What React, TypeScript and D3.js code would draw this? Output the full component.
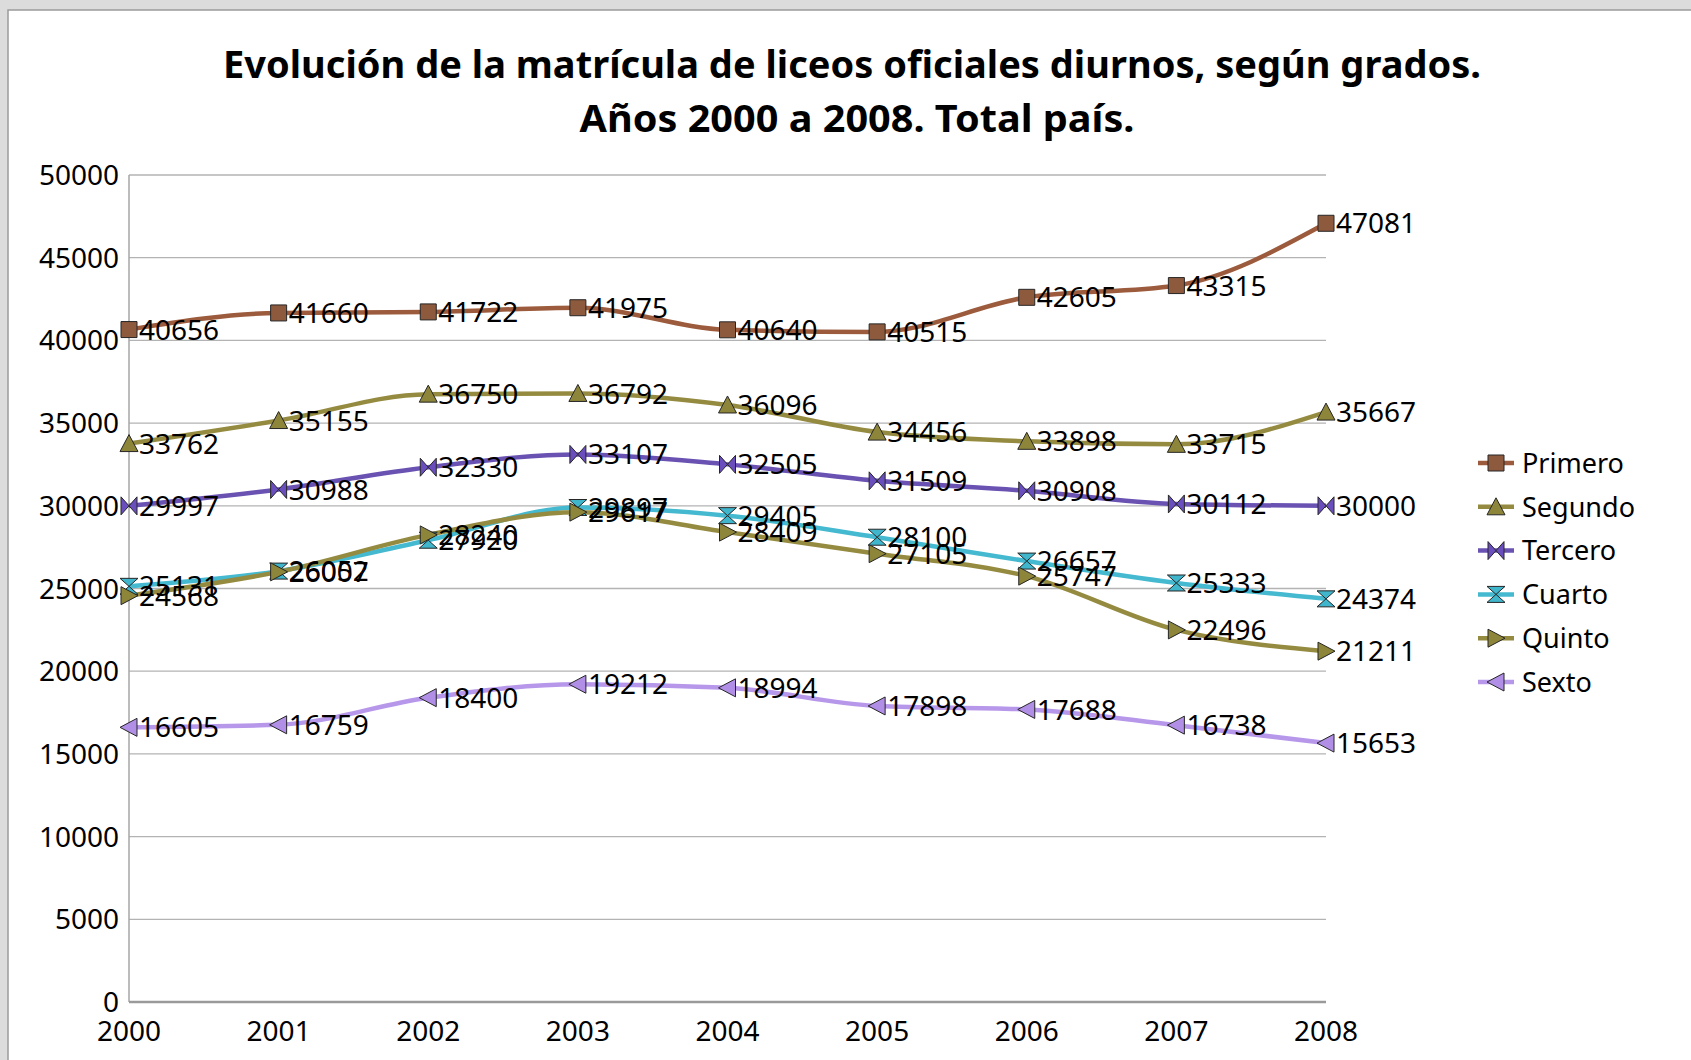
import React from 'react'
import * as d3 from 'd3'

const years = [2000, 2001, 2002, 2003, 2004, 2005, 2006, 2007, 2008]
const yTicks = [0, 5000, 10000, 15000, 20000, 25000, 30000, 35000, 40000, 45000, 50000]

const primero = [40656, 41660, 41722, 41975, 40640, 40515, 42605, 43315, 47081]
const segundo = [33762, 35155, 36750, 36792, 36096, 34456, 33898, 33715, 35667]
const tercero = [29997, 30988, 32330, 33107, 32505, 31509, 30908, 30112, 30000]
const cuarto = [25131, 26052, 27920, 29897, 29405, 28100, 26657, 25333, 24374]
const quinto = [24568, 26007, 28240, 29617, 28409, 27105, 25747, 22496, 21211]
const sexto = [16605, 16759, 18400, 19212, 18994, 17898, 17688, 16738, 15653]

const seriesNames = ['Primero', 'Segundo', 'Tercero', 'Cuarto', 'Quinto', 'Sexto']
const seriesValues = [primero, segundo, tercero, cuarto, quinto, sexto]
const lineColors = ['#9c5b3c', '#958b40', '#6a52b2', '#44b9cf', '#958b40', '#b697ea']
const markerFills = ['#8e5a3e', '#8d853a', '#6a4ebd', '#3fb6cc', '#8d853a', '#b18fe6']

const title1 = 'Evolución de la matrícula de liceos oficiales diurnos, según grados.'
const title2 = 'Años 2000 a 2008. Total país.'

// marker shapes, centred on 0,0
const markerPaths = [
  'M-8,-8 L8,-8 L8,8 L-8,8 Z',
  'M0,-9 L9,8 L-9,8 Z',
  'M-8,-9 L0,0 L-8,9 Z M8,-9 L0,0 L8,9 Z',
  'M-9,-8 L9,-8 L0,0 Z M-9,8 L9,8 L0,0 Z',
  'M-8,-9 L9,0 L-8,9 Z',
  'M8,-9 L-9,0 L8,9 Z'
]

const font = '"Noto Sans", "Open Sans", sans-serif'

export default function App() {
  const W = 1691
  const H = 1060
  const x = d3.scaleLinear().domain([2000, 2008]).range([129, 1326])
  const y = d3.scaleLinear().domain([0, 50000]).range([1002, 175])

  const line = d3.line<number>()
    .x((d, i) => x(years[i]))
    .y(d => y(d))
    .curve(d3.curveMonotoneX)

  const legendTop = 463
  const legendStep = 43.8

  return (
    <svg width={W} height={H} style={{ position: 'absolute', left: 0, top: 0 }} fontFamily={font}>
      <rect x={0} y={0} width={W} height={H} fill="#dcdcdc" />
      <rect x={8} y={10} width={W} height={H} fill="#ffffff" stroke="#9a9a9a" strokeWidth={1.5} />

      {/* title */}
      <text x={852} y={78} textAnchor="middle" fontSize={37} fontWeight="bold" textLength={1258} lengthAdjust="spacingAndGlyphs">{title1}</text>
      <text x={857} y={132} textAnchor="middle" fontSize={37} fontWeight="bold" textLength={555} lengthAdjust="spacingAndGlyphs">{title2}</text>

      {/* grid */}
      {yTicks.map(t => (
        <g key={t}>
          {t > 0 && <line x1={x(2000)} x2={x(2008)} y1={y(t)} y2={y(t)} stroke="#b3b3b3" strokeWidth={1.3} />}
          <text x={119} y={y(t)} dy="0.36em" textAnchor="end" fontSize={28}>{t}</text>
        </g>
      ))}
      <line x1={x(2000)} x2={x(2000)} y1={y(50000)} y2={y(0)} stroke="#a6a6a6" strokeWidth={1.5} />
      <line x1={x(2000)} x2={x(2008)} y1={y(0)} y2={y(0)} stroke="#9a9a9a" strokeWidth={2.5} />
      {years.map(yr => (
        <text key={yr} x={x(yr)} y={1041} textAnchor="middle" fontSize={28}>{yr}</text>
      ))}

      {/* lines */}
      {seriesValues.map((vals, s) => (
        <path key={s} d={line(vals) || ''} fill="none" stroke={lineColors[s]} strokeWidth={4.5} />
      ))}
      {/* markers */}
      {seriesValues.map((vals, s) => (
        <g key={s}>
          {vals.map((v, i) => (
            <path key={i} transform={`translate(${x(years[i])},${y(v)})`} d={markerPaths[s]}
              fill={markerFills[s]} stroke="#262626" strokeWidth={1} />
          ))}
        </g>
      ))}
      {/* data labels */}
      {seriesValues.map((vals, s) => (
        <g key={s}>
          {vals.map((v, i) => (
            <text key={i} x={x(years[i]) + 10} y={y(v)} dy="0.36em" fontSize={28}>{v}</text>
          ))}
        </g>
      ))}

      {/* legend */}
      {seriesNames.map((name, s) => {
        const ly = legendTop + s * legendStep
        return (
          <g key={name}>
            <line x1={1478} x2={1514} y1={ly} y2={ly} stroke={lineColors[s]} strokeWidth={4.5} />
            <path transform={`translate(1496,${ly})`} d={markerPaths[s]} fill={markerFills[s]} stroke="#262626" strokeWidth={1} />
            <text x={1522} y={ly} dy="0.36em" fontSize={27}>{name}</text>
          </g>
        )
      })}
    </svg>
  )
}
